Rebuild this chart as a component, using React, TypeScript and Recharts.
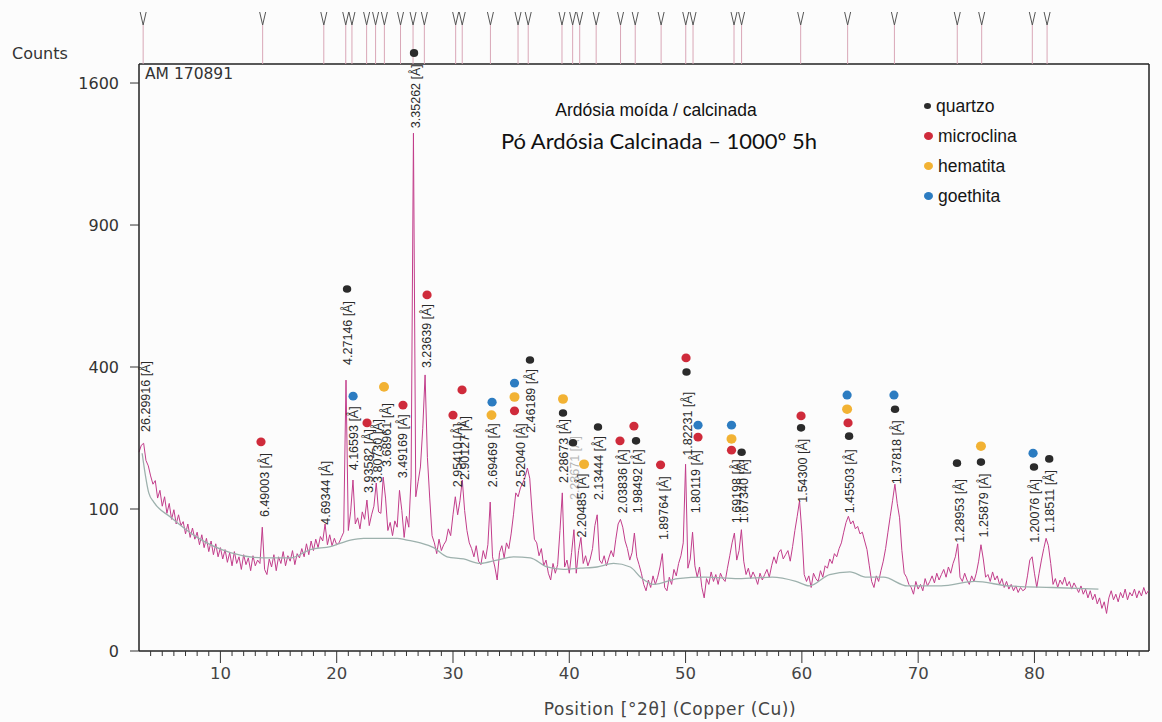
import React from "react";
import {
  ComposedChart,
  Line,
  Scatter,
  XAxis,
  YAxis,
  ReferenceLine,
  ReferenceDot,
  Legend,
} from "recharts";

// scan step in °2θ
const SCAN_STEP = 0.2;

// measured counts, one segment per 10° stretch of the scan
const scan03to10 = [196, 210, 214, 180, 170, 152, 138, 144, 116, 128, 104, 118, 94, 108, 86, 99, 80, 92, 78, 83, 68, 80, 64, 75, 62, 70, 56, 67, 53, 63, 49, 60, 46, 57, 44, 53];
const scan10to20 = [42, 51, 39, 48, 36, 49, 38, 44, 33, 46, 37, 43, 32, 45, 36, 41, 38, 76, 33, 29, 42, 35, 46, 32, 44, 38, 49, 36, 45, 40, 50, 37, 47, 43, 52, 44, 57, 46, 60, 50, 62, 53, 65, 60, 80, 56, 67, 55, 63, 56];
const scan20to30 = [58, 64, 70, 364, 72, 96, 145, 80, 88, 74, 96, 86, 113, 78, 92, 104, 140, 96, 94, 150, 116, 72, 82, 66, 84, 76, 128, 98, 64, 90, 76, 150, 1330, 118, 142, 168, 246, 378, 186, 116, 66, 58, 47, 62, 50, 56, 60, 74, 66, 92];
const scan30to40 = [118, 92, 112, 145, 98, 72, 58, 52, 44, 55, 40, 37, 50, 42, 56, 110, 44, 35, 25, 48, 55, 43, 58, 52, 68, 92, 124, 118, 132, 140, 150, 166, 148, 96, 62, 58, 45, 52, 36, 41, 30, 25, 38, 30, 37, 72, 124, 35, 41, 30];
const scan40to50 = [48, 73, 30, 50, 64, 38, 45, 36, 42, 52, 78, 92, 41, 38, 45, 36, 43, 50, 44, 62, 80, 86, 76, 60, 52, 41, 48, 69, 44, 37, 30, 22, 18, 25, 20, 28, 22, 27, 35, 47, 20, 18, 27, 22, 33, 28, 38, 45, 58, 173];
const scan50to60 = [34, 42, 70, 36, 27, 35, 20, 14, 26, 22, 31, 24, 29, 22, 30, 26, 24, 34, 45, 58, 69, 41, 50, 73, 40, 29, 34, 26, 31, 27, 22, 30, 25, 29, 33, 27, 36, 44, 38, 48, 51, 42, 46, 50, 40, 54, 72, 90, 112, 70];
const scan60to70 = [29, 24, 28, 20, 30, 26, 24, 32, 27, 36, 34, 42, 38, 47, 44, 52, 58, 70, 82, 90, 80, 84, 74, 77, 68, 70, 60, 51, 36, 24, 20, 28, 24, 32, 40, 52, 70, 90, 112, 138, 108, 88, 50, 30, 27, 22, 20, 16, 24, 19];
const scan70to80 = [22, 18, 26, 21, 24, 28, 23, 30, 25, 29, 33, 27, 35, 30, 38, 44, 57, 27, 24, 30, 25, 22, 28, 24, 30, 40, 56, 42, 27, 29, 24, 31, 25, 28, 22, 26, 20, 24, 19, 22, 18, 21, 17, 20, 18, 19, 28, 41, 44, 30];
const scan80to90 = [20, 30, 41, 52, 63, 55, 38, 22, 26, 20, 25, 22, 27, 21, 24, 19, 23, 20, 17, 21, 16, 19, 14, 18, 13, 16, 11, 14, 9, 12, 7, 14, 18, 13, 16, 12, 17, 14, 19, 13, 17, 15, 19, 14, 18, 15, 20, 16, 18];

const scanSegments = [
  { start: 3.0, counts: scan03to10 },
  { start: 10.2, counts: scan10to20 },
  { start: 20.2, counts: scan20to30 },
  { start: 30.2, counts: scan30to40 },
  { start: 40.2, counts: scan40to50 },
  { start: 50.2, counts: scan50to60 },
  { start: 60.2, counts: scan60to70 },
  { start: 70.2, counts: scan70to80 },
  { start: 80.2, counts: scan80to90 },
];

// fitted background
const bgPos = [3.27, 3.84, 4.27, 5.7, 8.0, 10.86, 13.73, 16.02, 17.74, 19.46, 21.18, 22.32, 23.75, 25.19, 26.05, 27.19, 28.34, 29.49, 30.91, 32.35, 33.78, 35.21, 36.65, 38.08, 39.51, 40.95, 42.38, 43.81, 45.24, 46.13, 47.29, 49.32, 51.65, 54.54, 57.45, 59.49, 60.65, 62.39, 64.13, 65.58, 67.03, 69.07, 71.97, 74.87, 77.77, 81.55, 85.5];
const bgCounts = [194, 124, 110, 89, 64, 48, 43, 43, 51, 54, 61, 63, 63, 63, 61, 58, 53, 44, 42, 38, 41, 44, 43, 35, 33, 34, 35, 38, 35, 27, 22, 26, 27, 26, 27, 24, 21, 29, 31, 27, 27, 21, 21, 24, 21, 20, 19];

// peak list: position, d-spacing and counts at the foot of each label
const peakPos = [3.357, 13.633, 18.892, 20.778, 21.311, 22.573, 23.344, 24.1, 25.489, 26.566, 27.538, 30.23, 30.794, 33.22, 35.594, 36.468, 39.372, 40.29, 40.896, 42.312, 44.408, 45.67, 47.897, 50.014, 50.642, 54.166, 54.817, 59.896, 63.936, 67.958, 73.364, 75.462, 79.817, 81.086];
const peakD = ["26.29916", "6.49003", "4.69344", "4.27146", "4.16593", "3.93582", "3.80730", "3.68961", "3.49169", "3.35262", "3.23639", "2.95410", "2.90127", "2.69469", "2.52040", "2.46189", "2.28673", "2.23671", "2.20485", "2.13444", "2.03836", "1.98492", "1.89764", "1.82231", "1.80119", "1.69198", "1.67340", "1.54300", "1.45503", "1.37818", "1.28953", "1.25879", "1.20076", "1.18511"];
const peakLabelBase = [238, 89, 79, 406, 162, 124, 140, 168, 148, 1356, 397, 133, 145, 133, 133, 236, 140, 113, 64, 113, 94, 94, 61, 189, 94, 81, 81, 109, 94, 138, 58, 64, 58, 69];

// phase identification marks [°2θ, counts]
const quartzoDots = [[20.89, 650], [36.62, 420], [39.46, 281], [40.32, 215], [42.47, 249], [45.74, 219], [50.08, 386], [54.82, 196], [59.93, 247], [64.06, 229], [68.01, 290], [73.34, 175], [75.4, 177], [79.96, 168], [81.27, 183]];
const microclinaDots = [[13.49, 217], [22.61, 258], [25.7, 300], [27.77, 629], [30.0, 276], [30.78, 338], [35.29, 286], [44.36, 219], [45.56, 251], [47.85, 172], [50.04, 426], [51.07, 227], [53.95, 200], [59.93, 274], [63.97, 258]];
const hematitaDots = [[24.07, 346], [33.31, 276], [35.29, 320], [39.46, 315], [41.27, 173], [53.95, 223], [63.89, 290], [75.4, 208]];
const goethitaDots = [[21.41, 322], [33.36, 307], [35.29, 356], [51.07, 253], [53.95, 253], [63.89, 325], [67.92, 325], [79.88, 194]];
const mainQuartzDot = [26.65, 1773];

const xMajorTicks = [10, 20, 30, 40, 50, 60, 70, 80];
const yTicks = [0, 100, 400, 900, 1600];
const X_DOMAIN: [number, number] = [3, 89.85];
const Y_TOP = 1709;

const scanData = scanSegments.flatMap(({ start, counts }) =>
  counts.map((c, i) => ({ t: +(start + i * SCAN_STEP).toFixed(2), c }))
);
const bgData = bgPos.map((t, i) => ({ t, c: bgCounts[i] }));
const labelData = peakPos.map((t, i) => ({ t, c: peakLabelBase[i], d: peakD[i] }));
const markerData = peakPos.map((t) => ({ t, c: Y_TOP }));
const toPoints = (arr: number[][]) => arr.map(([t, c]) => ({ t, c }));

const xTicks = Array.from({ length: 86 }, (_, i) => i + 4);

const phases = [
  { name: "quartzo", color: "#2b2b2b", data: quartzoDots, rx: 4.2, ry: 3.8 },
  { name: "microclina", color: "#cf2b3b", data: microclinaDots, rx: 4.6, ry: 4.4 },
  { name: "hematita", color: "#f2b233", data: hematitaDots, rx: 5, ry: 4.8 },
  { name: "goethita", color: "#2c7cc1", data: goethitaDots, rx: 4.6, ry: 4.4 },
];

const AXIS_FONT = "'DejaVu Sans', Verdana, sans-serif";
const ARIAL = "'Liberation Sans', Arial, sans-serif";

const XTick = ({ x, y, payload }: any) => {
  const major = xMajorTicks.includes(payload.value);
  return (
    <g>
      <line x1={x} x2={x} y1={y} y2={y + (major ? 12 : 5)} stroke="#333" strokeWidth={1} />
      {major && (
        <text x={x} y={y + 28} textAnchor="middle" fontSize={16.5} fill="#444" fontFamily={AXIS_FONT}>
          {payload.value}
        </text>
      )}
    </g>
  );
};

const YTick = ({ x, y, payload }: any) => (
  <g>
    <line x1={x - 9} x2={x} y1={y} y2={y} stroke="#333" strokeWidth={1} />
    <text x={x - 20} y={y} dy={5.5} textAnchor="end" fontSize={16} fill="#333" fontFamily={AXIS_FONT}>
      {payload.value}
    </text>
  </g>
);

const PeakMarker = ({ cx, cy }: any) => (
  <g>
    <line x1={cx} x2={cx} y1={cy} y2={cy - 39} stroke="#d9a7b7" strokeWidth={1} />
    <path d={`M${cx - 3} ${cy - 52} L${cx} ${cy - 39} L${cx + 3} ${cy - 52}`} stroke="#555" strokeWidth={1} fill="none" />
  </g>
);

const PeakLabel = ({ cx, cy, payload }: any) => (
  <text
    transform={`translate(${cx + 6.5},${cy}) rotate(-90)`}
    fontSize={12.5}
    fill={payload.d === "2.23671" ? "#b5b5b5" : "#2a2a2a"}
    fontFamily={ARIAL}
  >
    {payload.d} [Å]
  </text>
);

const phaseShape = (color: string, rx: number, ry: number) => (props: any) =>
  <ellipse cx={props.cx} cy={props.cy} rx={rx} ry={ry} fill={color} />;

const PhaseLegend = () => (
  <div style={{ fontFamily: ARIAL, fontSize: 17.5, color: "#151515" }}>
    {phases.map((p, i) => (
      <div key={p.name} style={{ display: "flex", alignItems: "center", height: 30 }}>
        <span
          style={{
            display: "inline-block",
            width: i === 0 ? 7 : 9,
            height: i === 0 ? 6 : 8,
            borderRadius: "50%",
            background: p.color,
            marginRight: 5,
          }}
        />
        {p.name}
      </div>
    ))}
  </div>
);

export default function App() {
  return (
    <div style={{ position: "absolute", left: 0, top: 0, width: 1162, height: 722, background: "#fcfcfc" }}>
      <div style={{ position: "absolute", left: 12, top: 44, fontFamily: AXIS_FONT, fontSize: 16, color: "#333" }}>
        Counts
      </div>
      <div style={{ position: "absolute", left: 145, top: 65, fontFamily: AXIS_FONT, fontSize: 15.5, color: "#333", zIndex: 2 }}>
        AM 170891
      </div>
      <div style={{ position: "absolute", left: 0, width: 1312, top: 100, textAlign: "center", fontFamily: ARIAL, fontSize: 17.5, color: "#111", zIndex: 2 }}>
        Ardósia moída / calcinada
      </div>
      <div style={{ position: "absolute", left: 0, width: 1318, top: 127, textAlign: "center", fontFamily: "Lato, 'Open Sans', sans-serif", fontSize: 22, color: "#111", zIndex: 2 }}>
        Pó Ardósia Calcinada – 1000º 5h
      </div>
      <div style={{ position: "absolute", left: 0, width: 1340, top: 699, textAlign: "center", fontFamily: AXIS_FONT, fontSize: 17, letterSpacing: 0.6, color: "#444" }}>
        Position [°2θ] (Copper (Cu))
      </div>
      <ComposedChart width={1162} height={722} margin={{ top: 64, right: 13, bottom: 31, left: 69 }}>
        <XAxis
          type="number"
          dataKey="t"
          domain={X_DOMAIN}
          ticks={xTicks}
          interval={0}
          tickSize={0}
          tickMargin={0}
          tickLine={false}
          tick={<XTick />}
          axisLine={{ stroke: "#222", strokeWidth: 1.5 }}
          height={40}
        />
        <YAxis
          type="number"
          scale="sqrt"
          domain={[0, Y_TOP]}
          ticks={yTicks}
          interval={0}
          tickSize={0}
          tickMargin={0}
          tickLine={false}
          tick={<YTick />}
          axisLine={{ stroke: "#222", strokeWidth: 1.5 }}
          width={70}
        />
        <ReferenceLine y={Y_TOP} stroke="#222" strokeWidth={1.5} />
        <ReferenceLine x={X_DOMAIN[1]} stroke="#222" strokeWidth={1.5} />
        <Line
          data={scanData}
          dataKey="c"
          type="linear"
          stroke="#c23d8b"
          strokeWidth={1}
          dot={false}
          legendType="none"
          isAnimationActive={false}
        />
        <Line
          data={bgData}
          dataKey="c"
          type="monotone"
          stroke="#9db1ad"
          strokeWidth={1.3}
          dot={false}
          legendType="none"
          isAnimationActive={false}
        />
        <Scatter data={markerData} dataKey="c" shape={<PeakMarker />} legendType="none" isAnimationActive={false} />
        <Scatter data={labelData} dataKey="c" shape={<PeakLabel />} legendType="none" isAnimationActive={false} />
        {phases.map((p) => (
          <Scatter
            key={p.name}
            name={p.name}
            data={toPoints(p.data)}
            dataKey="c"
            fill={p.color}
            shape={phaseShape(p.color, p.rx, p.ry)}
            isAnimationActive={false}
          />
        ))}
        <ReferenceDot
          x={mainQuartzDot[0]}
          y={mainQuartzDot[1]}
          ifOverflow="visible"
          shape={phaseShape(phases[0].color, 4.2, 4)}
        />
        <Legend
          layout="vertical"
          align="center"
          verticalAlign="middle"
          content={<PhaseLegend />}
          wrapperStyle={{ position: "absolute", left: 924, top: 91, width: 150 }}
        />
      </ComposedChart>
    </div>
  );
}
